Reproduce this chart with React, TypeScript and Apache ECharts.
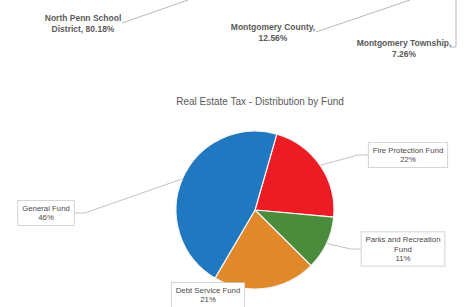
import React, { useEffect, useRef } from "react";
import * as echarts from "echarts";

// Lower pie: Real Estate Tax - Distribution by Fund
const fundNames = ["Fire Protection Fund", "Parks and Recreation Fund", "Debt Service Fund", "General Fund"];
const fundLabelNames = ["Fire Protection Fund", "Parks and Recreation\nFund", "Debt Service Fund", "General Fund"];
const fundValues = [22, 11, 21, 46];
const fundColors = ["#ec1c24", "#4a8c3c", "#e0892b", "#1f78c0"];

// Cut-off chart at the top (labels only visible)
const topNames = ["North Penn School\nDistrict", "Montgomery County", "Montgomery Township"];
const topValues = [80.18, 12.56, 7.26];
const topSeparators = [", ", ",\n", ",\n"];

const title = "Real Estate Tax - Distribution by Fund";

export default function App() {
  const ref = useRef<HTMLDivElement>(null);
  useEffect(() => {
    if (!ref.current) return;
    const chart = echarts.init(ref.current, null, { renderer: "svg" });
    const font = "Liberation Sans";
    const labelPos: Record<number, { x: number; y: number }> = {
      0: { x: 408, y: 155 },
      1: { x: 403, y: 249 },
      2: { x: 208, y: 295 },
      3: { x: 46, y: 213 },
    };
    const topText = topNames.map((n, i) => `${n}${topSeparators[i]}${topValues[i].toFixed(2)}%`);
    const topPos = [
      [83, 23],
      [273, 32],
      [404, 48],
    ];
    chart.setOption({
      animation: false,
      backgroundColor: "#ffffff",
      title: {
        text: title,
        left: 255,
        textAlign: "center",
        top: 91,
        textStyle: { fontFamily: font, fontSize: 10, fontWeight: "normal", color: "#595959" },
      },
      graphic: [
        ...topText.map((t, i) => ({
          type: "text",
          x: topPos[i][0],
          y: topPos[i][1],
          style: {
            text: t,
            fontFamily: font,
            fontSize: 8.5,
            fontWeight: "bold",
            lineHeight: 11,
            fill: "#5a5a5a",
            align: "center",
            verticalAlign: "middle",
          },
        })),
        { type: "line", shape: { x1: 122, y1: 23, x2: 188, y2: 0 }, style: { stroke: "#a6a6a6", lineWidth: 0.8 } },
        { type: "line", shape: { x1: 316, y1: 32, x2: 410, y2: 0 }, style: { stroke: "#a6a6a6", lineWidth: 0.8 } },
        {
          type: "polyline",
          shape: { points: [[451, 47], [456, 47], [456, 0]] },
          style: { stroke: "#a6a6a6", lineWidth: 0.8, fill: "none" },
        },
      ],
      series: [
        {
          type: "pie",
          center: [255, 210],
          radius: 79,
          startAngle: 74,
          clockwise: true,
          itemStyle: { borderColor: "#f4f4f4", borderWidth: 1.2 },
          data: fundNames.map((n, i) => ({
            name: n,
            value: fundValues[i],
            itemStyle: { color: fundColors[i] },
            label: { formatter: `${fundLabelNames[i]}\n${fundValues[i]}%` },
            labelLine: { show: i !== 2 },
          })),
          label: {
            show: true,
            fontFamily: font,
            fontSize: 7.8,
            lineHeight: 9.5,
            color: "#4a4a4a",
            backgroundColor: "#ffffff",
            borderColor: "#c8c8c8",
            borderWidth: 0.8,
            padding: [3, 4, 2, 4],
            align: "center",
          },
          labelLine: { show: true, lineStyle: { color: "#b0b0b0", width: 0.8 }, length: 10, length2: 10 },
          labelLayout: (params: any) => {
            const p = labelPos[params.dataIndex];
            return { x: p.x, y: p.y, align: "center", verticalAlign: "middle", moveOverlap: false };
          },
        },
      ],
    });
    return () => chart.dispose();
  }, []);
  return (
    <div
      ref={ref}
      style={{ position: "absolute", left: 0, top: 0, width: 474, height: 307, background: "#fff" }}
    />
  );
}
